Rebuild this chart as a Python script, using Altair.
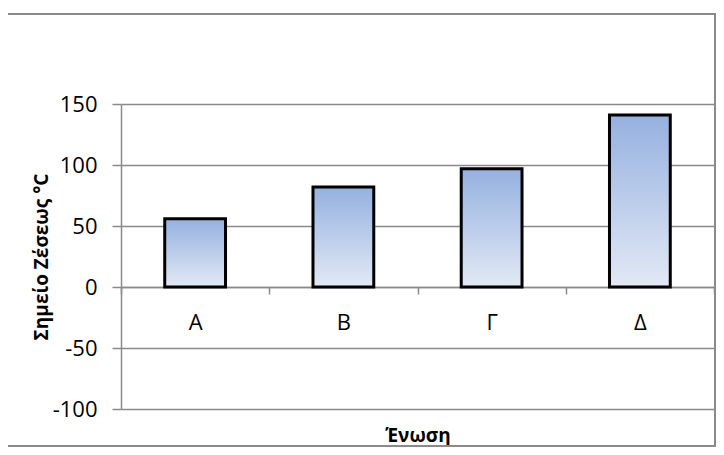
import altair as alt
import pandas as pd

categories = ["Α", "Β", "Γ", "Δ"]
boiling_points = [56, 82, 97, 141]
y_ticks = [-100, -50, 0, 50, 100, 150]

df = pd.DataFrame({"compound": categories, "bp": boiling_points})

FONT = "Open Sans"
GRAY = "#8a8a8a"

grad = alt.Gradient(
    gradient="linear",
    stops=[alt.GradientStop(color="#95B1E0", offset=0),
           alt.GradientStop(color="#E2E9F5", offset=1)],
    x1=0, x2=0, y1=0, y2=1,
)

bars = alt.Chart(df).mark_bar(
    color=grad, stroke="black", strokeWidth=3, width={"band": 0.41}
).encode(
    x=alt.X(
        "compound:N", sort=categories,
        scale=alt.Scale(paddingInner=0, paddingOuter=0),
        axis=alt.Axis(
            title="Ένωση", offset=-122, tickBand="extent", labelAngle=0,
            labelFontSize=22, labelFont=FONT, labelColor="black", labelPadding=18,
            tickSize=7, tickColor=GRAY, tickWidth=1.5,
            domainColor=GRAY, domainWidth=1.5,
            titleFont=FONT, titleFontSize=19, titleFontWeight="bold", titleColor="black",
            titleY=148, titleBaseline="middle", grid=False,
        ),
    ),
    y=alt.Y(
        "bp:Q",
        scale=alt.Scale(domain=[-100, 150], nice=False),
        axis=alt.Axis(
            values=y_ticks, title="Σημείο Ζέσεως °C",
            labelExpr="replace(datum.label, '\u2212', '-')",
            labelFontSize=22, labelFont=FONT, labelColor="black", labelPadding=15,
            tickSize=9, tickColor=GRAY, tickWidth=1.5,
            domainColor=GRAY, domainWidth=1.5,
            grid=True, gridColor=GRAY, gridWidth=1.5,
            titleFont=FONT, titleFontSize=19, titleFontWeight="bold", titleColor="black",
            titleX=-80, titleY=152.5, titleBaseline="middle", titleAngle=270,
        ),
    ),
)

frame = alt.Chart(pd.DataFrame({"k": [0]})).mark_rect(
    fill="white", fillOpacity=0, stroke=GRAY, strokeWidth=2, clip=False
).encode(
    x=alt.value(-114), x2=alt.value(594), y=alt.value(-90), y2=alt.value(342)
)

chart = alt.layer(frame, bars).properties(
    width=593, height=305,
    padding={"left": 113, "top": 96, "right": 2, "bottom": 38},
    autosize=alt.AutoSizeParams(type="none"),
    background="white",
).configure_view(strokeWidth=0)

chart.save("out.html", embed_options={"renderer": "svg", "actions": False})
